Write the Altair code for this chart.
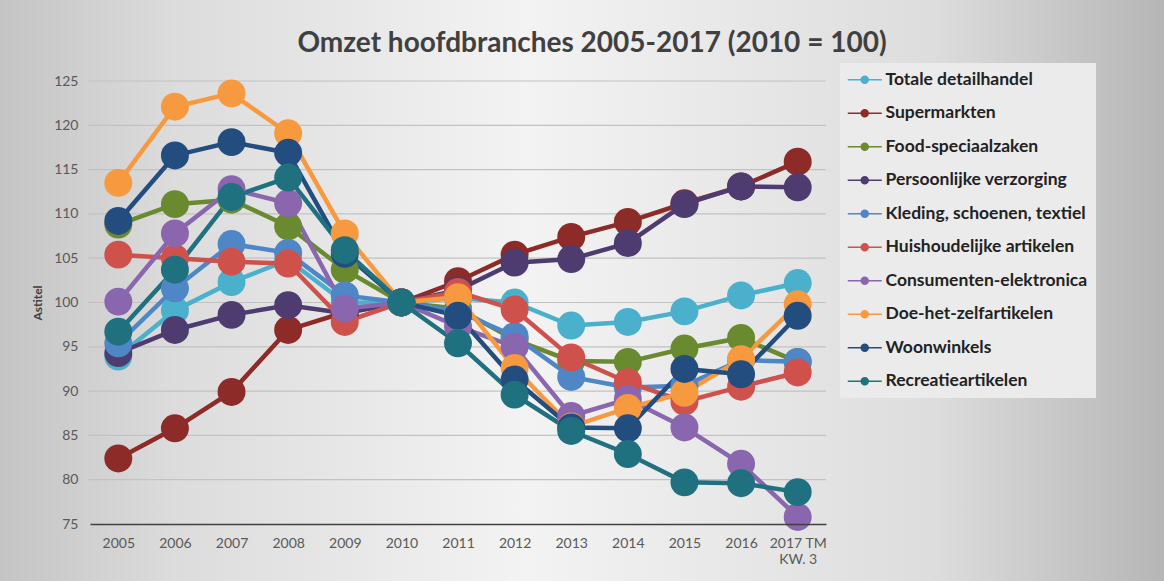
import altair as alt
import pandas as pd

years = ["2005", "2006", "2007", "2008", "2009", "2010", "2011", "2012",
         "2013", "2014", "2015", "2016", "2017 TM KW. 3"]

series = ["Totale detailhandel", "Supermarkten", "Food-speciaalzaken",
          "Persoonlijke verzorging", "Kleding, schoenen, textiel",
          "Huishoudelijke artikelen", "Consumenten-elektronica",
          "Doe-het-zelfartikelen", "Woonwinkels", "Recreatieartikelen"]

colors = ["#4bb0cb", "#8c2b28", "#6a8a30", "#4e3b70", "#4f86c6",
          "#cf514c", "#8966ad", "#f7993f", "#234c7f", "#1f7180"]

y_ticks = [75, 80, 85, 90, 95, 100, 105, 110, 115, 120, 125]

totale = [93.9, 99.1, 102.3, 104.8, 100.0, 100.0, 100.5, 100.0, 97.4, 97.8, 99.0, 100.8, 102.2]
supermarkten = [82.4, 85.8, 89.9, 96.9, 98.9, 100.0, 102.4, 105.4, 107.4, 109.1, 111.2, 113.1, 115.9]
food = [108.8, 111.1, 111.6, 108.6, 103.7, 100.0, 99.3, 95.8, 93.4, 93.3, 94.8, 96.0, 93.3]
persoonlijk = [94.3, 96.9, 98.6, 99.7, 98.8, 100.0, 101.4, 104.5, 104.9, 106.7, 111.1, 113.1, 113.0]
kleding = [95.4, 101.6, 106.6, 105.6, 100.8, 100.0, 99.0, 96.2, 91.6, 90.4, 90.6, 93.5, 93.3]
huishoudelijk = [105.4, 105.0, 104.6, 104.4, 97.8, 100.0, 101.2, 99.2, 93.8, 91.0, 88.8, 90.5, 92.1]
consumenten = [100.1, 107.8, 112.8, 111.2, 99.3, 100.0, 97.3, 95.0, 87.2, 89.1, 85.9, 81.8, 75.8]
doehetzelf = [113.5, 122.1, 123.6, 119.1, 107.8, 100.0, 100.6, 92.6, 86.0, 88.1, 89.8, 93.6, 99.8]
woonwinkels = [109.2, 116.6, 118.1, 116.9, 105.5, 100.0, 98.5, 91.3, 85.9, 85.8, 92.5, 91.9, 98.5]
recreatie = [96.7, 103.7, 111.9, 114.1, 105.9, 100.0, 95.4, 89.6, 85.5, 82.9, 79.7, 79.6, 78.6]

values = [totale, supermarkten, food, persoonlijk, kleding,
          huishoudelijk, consumenten, doehetzelf, woonwinkels, recreatie]

rows = []
for s, c, vals in zip(series, colors, values):
    for y, v in zip(years, vals):
        rows.append({"jaar": y, "branche": s, "kleur": c, "index": v})
df = pd.DataFrame(rows)
grid_df = pd.DataFrame({"index": y_ticks[1:]})

W, H = 736, 443
PAD = {"left": 90, "top": 81, "right": 1164 - 90 - W, "bottom": 581 - 81 - H}

FONT = "Lato"
LEGEND_SYMBOL = ("M-2,-0.09 L2,-0.09 L2,0.09 L-2,0.09 Z "
                 "M-0.5,0 A0.5,0.5 0 0,1 0.5,0 A0.5,0.5 0 0,1 -0.5,0 Z")

x_enc = alt.X(
    "jaar:N", sort=years, scale=alt.Scale(domain=years),
    axis=alt.Axis(
        title=None, labelAngle=0, ticks=False, grid=False, zindex=1,
        domainColor="#404040", domainWidth=1.5,
        labelFont=FONT, labelFontSize=14, labelColor="#595959", labelPadding=12,
        labelExpr="datum.label == '2017 TM KW. 3' ? ['2017 TM', 'KW. 3'] : datum.label",
    ),
)
y_axis = alt.Axis(
    values=y_ticks, title="Astitel",
    titleFont=FONT, titleFontSize=12, titleFontWeight="bold", titleColor="#404040",
    titlePadding=9, zindex=1,
    labelFont=FONT, labelFontSize=14, labelColor="#595959", labelPadding=12,
    ticks=False, domain=False, grid=False,
)
y_enc = alt.Y("index:Q", scale=alt.Scale(domain=[75, 125], nice=False, zero=False), axis=y_axis)

bg = alt.Chart(pd.DataFrame({"a": [0]})).mark_rect(
    fill={
        "gradient": "linear",
        "x1": 0, "y1": 0, "x2": 1, "y2": 0,
        "stops": [
            {"offset": 0.0, "color": "#c4c4c4"},
            {"offset": 0.15, "color": "#dcdcdc"},
            {"offset": 0.45, "color": "#f3f3f3"},
            {"offset": 0.8, "color": "#dddddd"},
            {"offset": 1.0, "color": "#b6b6b6"},
        ],
    }
).encode(
    x=alt.value(-PAD["left"]), x2=alt.value(W + PAD["right"]),
    y=alt.value(-PAD["top"]), y2=alt.value(H + PAD["bottom"]),
)

grid = alt.Chart(grid_df).mark_rule(color="#c2c2c2", strokeWidth=1.2).encode(
    y=y_enc, x=alt.value(-2), x2=alt.value(W),
)

lines = alt.Chart(df).mark_line(strokeWidth=4.5).encode(
    x=x_enc, y=y_enc,
    detail="branche:N",
    stroke=alt.Stroke("kleur:N", scale=None),
)

points = alt.Chart(df).mark_point(filled=True, size=780, opacity=1).encode(
    x=x_enc, y=y_enc,
    color=alt.Color(
        "branche:N", scale=alt.Scale(domain=series, range=colors),
        legend=alt.Legend(
            title=None, orient="none", legendX=750, legendY=-18, zindex=1,
            symbolType=LEGEND_SYMBOL, symbolSize=289, symbolStrokeWidth=0,
            symbolOpacity=1, symbolOffset=8, labelOffset=12,
            labelFont=FONT, labelFontWeight="bold", labelFontSize=17.5,
            labelColor="#222222", rowPadding=14.5, padding=8,
            fillColor="#ebebeb", labelLimit=400,
        ),
    ),
)

chart = alt.layer(bg, grid, lines, points).properties(
    width=W, height=H,
    autosize=alt.AutoSizeParams(type="none"),
    padding=PAD,
    background="#d6d6d6",
    title=alt.Title(
        "Omzet hoofdbranches 2005-2017 (2010 = 100)",
        font=FONT, fontSize=28, fontWeight="bold", color="#404040",
        anchor="middle", dx=134, offset=-58, zindex=1,
    ),
).configure_view(strokeWidth=0)

chart.save("out.html", embed_options={"renderer": "svg", "actions": False})
